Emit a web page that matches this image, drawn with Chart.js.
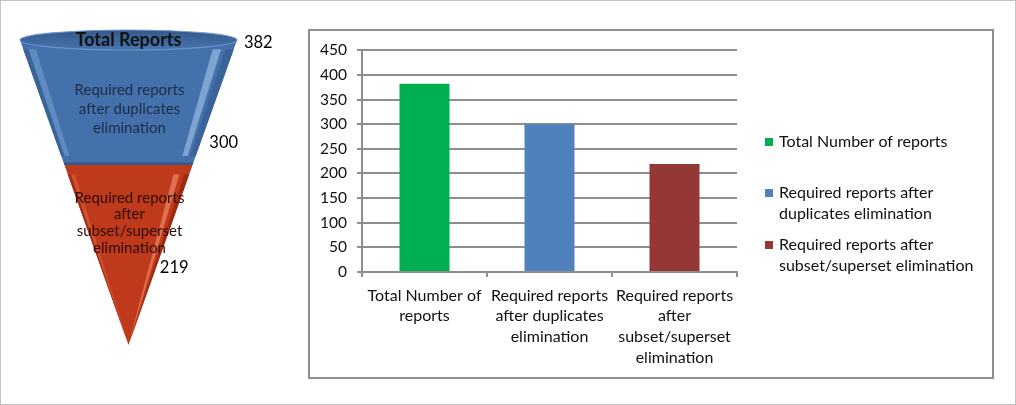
<!DOCTYPE html>
<html>
<head>
<meta charset="utf-8">
<script src="https://cdn.jsdelivr.net/npm/chart.js@4"></script>
<style>
  body { margin: 0; background: #fff; }
  #frame { position: relative; width: 1016px; height: 405px; box-sizing: border-box; border: 1px solid #c4c4c4; background: #fff; }
  #funnelWrap { position: absolute; left: 0; top: 0; }
  #box { position: absolute; left: 307px; top: 28px; width: 686px; height: 350px; box-sizing: border-box; border: 2px solid #8e8e8e; }
  canvas { display: block; }
</style>
</head>
<body>
<div id="frame">
  <div id="funnelWrap"><canvas id="funnelChart" width="298" height="403"></canvas></div>
  <div id="box"><canvas id="barChart" width="682" height="346"></canvas></div>
</div>
<script>
// bar chart data
const categories = [
    ['Total Number of', 'reports'],
    ['Required reports', 'after duplicates', 'elimination'],
    ['Required reports', 'after', 'subset/superset', 'elimination']
];
const reportCounts = [382, 300, 219];
const barColors = ['#00B050', '#4F81BD', '#953735'];
const legendLabels = [
    ['Total Number of reports'],
    ['Required reports after', 'duplicates elimination'],
    ['Required reports after', 'subset/superset elimination']
];
const yMin = 0, yMax = 450, yStep = 50;

// funnel data
const funnelTitles = [
    ['Total Reports'],
    ['Required reports', 'after duplicates', 'elimination'],
    ['Required reports', 'after', 'subset/superset', 'elimination']
];
const funnelValues = [382, 300, 219];

Chart.defaults.font.family = 'Lato, "Open Sans", sans-serif';
Chart.defaults.color = '#111';

const gridColor = '#8e8e8e';

// legend on the right, Excel style (evenly spaced entries)
const sideLegend = {
    id: 'sideLegend',
    afterDraw(chart) {
        const ctx = chart.ctx;
        const colors = chart.data.datasets[0].backgroundColor;
        const boxX = chart.chartArea.right + 28;
        const rowY = [111, 162, 214];
        ctx.save();
        ctx.font = '16px Lato';
        ctx.textBaseline = 'middle';
        legendLabels.forEach(function (lines, i) {
            ctx.fillStyle = colors[i];
            ctx.fillRect(boxX, rowY[i] - 4, 8, 8);
            ctx.fillStyle = '#111';
            lines.forEach(function (line, j) {
                ctx.fillText(line, boxX + 14, rowY[i] + j * 20.5);
            });
        });
        ctx.restore();
    }
};

const barChart = new Chart(document.getElementById('barChart'), {
    type: 'bar',
    data: {
        labels: categories,
        datasets: [{
            label: 'Reports',
            data: reportCounts,
            backgroundColor: barColors,
            barPercentage: 0.4,
            categoryPercentage: 1
        }]
    },
    options: {
        responsive: false,
        animation: false,
        layout: { padding: { left: 0, top: 17, right: 255, bottom: 0 } },
        plugins: {
            legend: { display: false },
            tooltip: { enabled: false }
        },
        scales: {
            x: {
                grid: { drawOnChartArea: false, tickLength: 5, color: gridColor, lineWidth: 2 },
                border: { color: gridColor, width: 2 },
                ticks: { font: { size: 16, lineHeight: 1.3 }, color: '#111', padding: 8, maxRotation: 0, autoSkip: false },
                afterFit: function (scale) { scale.height = 105; }
            },
            y: {
                min: yMin,
                max: yMax,
                ticks: { stepSize: yStep, font: { size: 15.5 }, color: '#111', padding: 10 },
                grid: { color: gridColor, lineWidth: 2, tickLength: 5 },
                border: { color: gridColor, width: 2 },
                afterFit: function (scale) { scale.width = 52; }
            }
        }
    },
    plugins: [sideLegend]
});

// funnel drawn on a chart with hidden linear scales:
// x = position across the cone (-1..1 at the rim), y = depth (0 rim .. 1 tip)
const funnelSplits = [0, 0.41, 1];
const sectionStyles = [
    { base: '#4471ab', text: '#1d2d45', lineGap: 19, textDepth: 0.226,
      bands: [[-1, -0.95, '#3a6396'], [-0.95, -0.88, 'rgba(140,180,230,0.4)'], [0.8, 0.88, 'rgba(175,205,242,0.55)'], [0.92, 1, '#3a6397']] },
    { base: '#bf3a1b', text: '#2e0c04', lineGap: 16.7, textDepth: 0.6,
      bands: [[-1, -0.95, '#a42d12'], [-0.95, -0.88, 'rgba(235,115,85,0.4)'], [0.74, 0.84, 'rgba(248,155,125,0.55)'], [0.92, 1, '#9c2a10']] }
];
const valueAnchors = [
    { depth: 0.01, dx: 8 },
    { depth: 0.338, dx: 9 },
    { depth: 0.748, dx: 4 }
];

function band(ctx, xs, ys, u1, u2, d0, d1, fill) {
    ctx.beginPath();
    ctx.moveTo(xs.getPixelForValue(u1 * (1 - d0)), ys.getPixelForValue(d0));
    ctx.lineTo(xs.getPixelForValue(u2 * (1 - d0)), ys.getPixelForValue(d0));
    ctx.lineTo(xs.getPixelForValue(u2 * (1 - d1)), ys.getPixelForValue(d1));
    ctx.lineTo(xs.getPixelForValue(u1 * (1 - d1)), ys.getPixelForValue(d1));
    ctx.closePath();
    ctx.fillStyle = fill;
    ctx.fill();
}

const funnelPlugin = {
    id: 'funnel',
    afterDraw(chart) {
        const ctx = chart.ctx;
        const xs = chart.scales.x, ys = chart.scales.y;
        const cx = xs.getPixelForValue(0);
        ctx.save();

        sectionStyles.forEach(function (st, i) {
            const d0 = funnelSplits[i], d1 = funnelSplits[i + 1];
            band(ctx, xs, ys, -1, 1, d0, d1, st.base);
            st.bands.forEach(function (b) {
                band(ctx, xs, ys, b[0], b[1], d0 + 0.03, d1 - 0.03, b[2]);
            });
        });
        // seam between the two parts
        band(ctx, xs, ys, -1, 1, funnelSplits[1] - 0.008, funnelSplits[1], '#35588a');

        // top rim ellipse
        const rx = xs.getPixelForValue(1) - cx;
        const topY = ys.getPixelForValue(0);
        ctx.beginPath();
        ctx.ellipse(cx, topY, rx, 10, 0, 0, Math.PI * 2);
        const g = ctx.createLinearGradient(0, topY - 10, 0, topY + 10);
        g.addColorStop(0, '#35598a');
        g.addColorStop(1, '#4675ae');
        ctx.fillStyle = g;
        ctx.fill();
        ctx.lineWidth = 1.2;
        ctx.strokeStyle = 'rgba(110,150,205,0.9)';
        ctx.stroke();

        // titles
        ctx.textAlign = 'center';
        ctx.textBaseline = 'middle';
        ctx.fillStyle = '#111';
        ctx.font = 'bold 18px Lato';
        ctx.fillText(funnelTitles[0][0], cx, topY);
        ctx.font = '15px Lato';
        sectionStyles.forEach(function (st, i) {
            const lines = funnelTitles[i + 1];
            const midY = ys.getPixelForValue(st.textDepth);
            ctx.fillStyle = st.text;
            lines.forEach(function (line, j) {
                ctx.fillText(line, cx + 1, midY + (j - (lines.length - 1) / 2) * st.lineGap);
            });
        });

        // values next to the cone
        ctx.textAlign = 'left';
        ctx.fillStyle = '#000';
        ctx.font = '16.5px Lato';
        funnelValues.forEach(function (v, i) {
            const a = valueAnchors[i];
            const x = xs.getPixelForValue(1 - a.depth) + a.dx;
            ctx.fillText(String(v), x, ys.getPixelForValue(a.depth));
        });
        ctx.restore();
    }
};

const funnelChart = new Chart(document.getElementById('funnelChart'), {
    type: 'scatter',
    data: { labels: funnelTitles, datasets: [] },
    options: {
        responsive: false,
        animation: false,
        layout: { padding: { left: 19, right: 62, top: 39, bottom: 59 } },
        plugins: { legend: { display: false }, tooltip: { enabled: false } },
        scales: {
            x: { type: 'linear', min: -1, max: 1, display: false },
            y: { type: 'linear', min: 0, max: 1, reverse: true, display: false }
        }
    },
    plugins: [funnelPlugin]
});
</script>
</body>
</html>
